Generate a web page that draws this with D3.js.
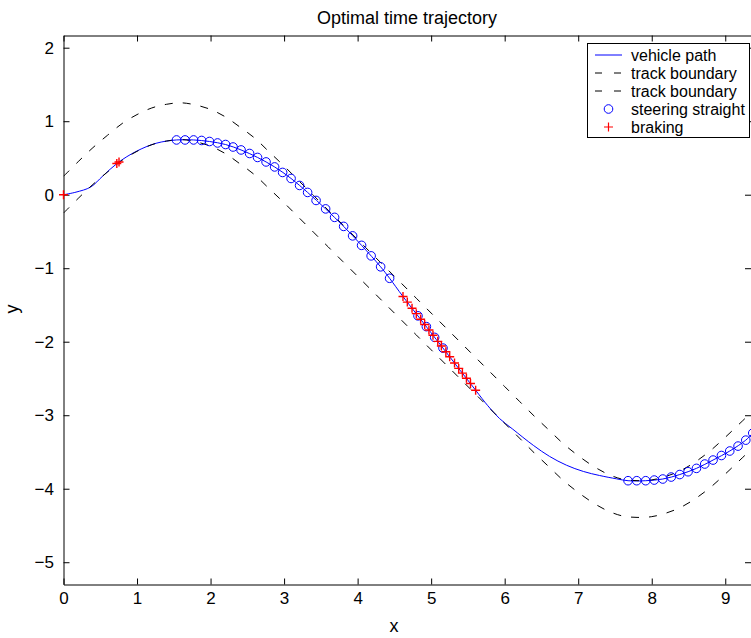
<!DOCTYPE html>
<html><head><meta charset="utf-8">
<script src="https://cdn.jsdelivr.net/npm/d3@7"></script>
<style>body{margin:0;background:#fff}svg{display:block}</style>
</head><body>
<svg id="chart" width="751" height="638"></svg>
<script>
// ---- data ----
const trackX = [0,0.2,0.4,0.6,0.8,1.0,1.2,1.4,1.6,1.8,2.0,2.2,2.4,2.6,2.8,3.0,3.2,3.4,3.6,3.8,4.0,4.2,4.4,4.6,4.8,5.0,5.2,5.4,5.6,5.8,6.0,6.2,6.4,6.6,6.8,7.0,7.2,7.4,7.6,7.8,8.0,8.2,8.4,8.6,8.8,9.0,9.2,9.4];
const upperY = [0.25,0.45,0.64,0.81,0.97,1.09,1.18,1.23,1.25,1.22,1.16,1.06,0.92,0.77,0.58,0.39,0.19,-0.01,-0.21,-0.41,-0.61,-0.81,-1.01,-1.21,-1.41,-1.61,-1.81,-2.01,-2.21,-2.41,-2.61,-2.81,-3.01,-3.20,-3.39,-3.55,-3.69,-3.80,-3.87,-3.89,-3.88,-3.83,-3.75,-3.63,-3.48,-3.30,-3.11,-2.92];
const lowerY = [-0.25,-0.05,0.14,0.31,0.47,0.59,0.68,0.73,0.75,0.72,0.66,0.56,0.42,0.27,0.08,-0.11,-0.31,-0.51,-0.71,-0.91,-1.11,-1.31,-1.51,-1.71,-1.91,-2.11,-2.31,-2.51,-2.71,-2.91,-3.11,-3.31,-3.51,-3.70,-3.89,-4.05,-4.19,-4.30,-4.37,-4.39,-4.38,-4.33,-4.25,-4.13,-3.98,-3.80,-3.61,-3.42];

const pathX = [0,0.17,0.37,0.535,0.74,0.99,1.26,1.537,1.769,1.986,2.204,2.415,2.639,2.871,3.095,3.320,3.565,3.810,4.054,4.313,4.435,4.617,5.0,5.605,5.77,5.93,6.11,6.39,6.61,6.84,7.07,7.29,7.52,7.678,7.918,8.150,8.381,8.608,8.834,9.061,9.279,9.374,9.45];
const pathY = [0,0.035,0.105,0.255,0.435,0.59,0.70,0.745,0.745,0.724,0.683,0.609,0.507,0.378,0.221,0.031,-0.193,-0.431,-0.689,-0.981,-1.137,-1.385,-1.879,-2.660,-2.87,-3.045,-3.19,-3.41,-3.56,-3.68,-3.765,-3.82,-3.865,-3.891,-3.891,-3.868,-3.807,-3.723,-3.610,-3.487,-3.339,-3.243,-3.16];

const straightX = [1.537,1.653,1.769,1.878,1.986,2.095,2.204,2.306,2.415,2.531,2.639,2.755,2.871,2.980,3.095,3.211,3.320,3.435,3.565,3.687,3.810,3.932,4.054,4.184,4.313,4.435,
  4.821,4.935,5.048,5.161,
  7.678,7.796,7.918,8.034,8.150,8.265,8.381,8.494,8.608,8.721,8.834,8.948,9.061,9.174,9.279,9.374];
const straightY = [0.745,0.745,0.745,0.738,0.724,0.704,0.683,0.649,0.609,0.561,0.507,0.446,0.378,0.303,0.221,0.126,0.031,-0.078,-0.193,-0.308,-0.431,-0.560,-0.689,-0.832,-0.981,-1.137,
  -1.648,-1.795,-1.941,-2.087,
  -3.891,-3.891,-3.891,-3.882,-3.868,-3.841,-3.807,-3.769,-3.723,-3.664,-3.610,-3.548,-3.487,-3.420,-3.339,-3.243];

const brakeX = [0,0.725,0.755,4.617,4.676,4.740,4.798,4.857,4.912,4.970,5.025,5.090,5.139,5.200,5.252,5.318,5.375,5.425,5.480,5.535,5.605];
const brakeY = [0,0.425,0.445,-1.385,-1.461,-1.544,-1.618,-1.695,-1.766,-1.840,-1.911,-1.995,-2.058,-2.137,-2.204,-2.289,-2.363,-2.427,-2.498,-2.569,-2.660];

const xTicks = [0,1,2,3,4,5,6,7,8,9];
const yTicks = [-5,-4,-3,-2,-1,0,1,2];
const legendLabels = ["vehicle path","track boundary","track boundary","steering straight","braking"];
const titleText = "Optimal time trajectory";

// ---- layout ----
const FONT = "'Liberation Sans', Arial, Helvetica, sans-serif";
const L = 63.5, R = 751, T = 35.5, B = 584.5;
const DASH = "8,10";
const svg = d3.select("#chart");
const x = d3.scaleLinear().domain([0, 9.35]).range([L, R]);
const y = d3.scaleLinear().domain([-5.303, 2.166]).range([B, T]);

svg.append("defs").append("clipPath").attr("id","clip")
  .append("rect").attr("x",L).attr("y",T).attr("width",R-L).attr("height",B-T);

// axes
const tk = 6;
const gB = svg.append("g").attr("transform",`translate(0,${B})`)
  .call(d3.axisBottom(x).tickValues(xTicks).tickSize(-tk).tickSizeOuter(0).tickPadding(7).tickFormat(d3.format("d")));
const gT = svg.append("g").attr("transform",`translate(0,${T})`)
  .call(d3.axisTop(x).tickValues(xTicks).tickSize(-tk).tickSizeOuter(0).tickFormat(""));
const gL = svg.append("g").attr("transform",`translate(${L},0)`)
  .call(d3.axisLeft(y).tickValues(yTicks).tickSize(-tk).tickSizeOuter(0).tickPadding(9.5).tickFormat(d3.format("d")));
const gR = svg.append("g").attr("transform",`translate(${R},0)`)
  .call(d3.axisRight(y).tickValues(yTicks).tickSize(-tk).tickSizeOuter(0).tickFormat(""));
[gB,gT,gL,gR].forEach(g=>{
  g.selectAll("path,line").attr("stroke","#000").attr("stroke-width",1);
  g.selectAll("text").attr("font-family",FONT).attr("font-size",17).attr("fill","#000");
});

const plot = svg.append("g").attr("clip-path","url(#clip)");
const lineGen = d3.line().x(d=>x(d[0])).y(d=>y(d[1])).curve(d3.curveCatmullRom.alpha(0.5));

// vehicle path
plot.append("path").datum(pathX.map((v,i)=>[v,pathY[i]]))
  .attr("d",lineGen).attr("fill","none").attr("stroke","#0000ff").attr("stroke-width",1);
// boundaries
[upperY, lowerY].forEach(arr=>{
  plot.append("path").datum(trackX.map((v,i)=>[v,arr[i]]))
    .attr("d",lineGen).attr("fill","none").attr("stroke","#000").attr("stroke-width",1)
    .attr("stroke-dasharray",DASH);
});
// steering straight markers
svg.append("g").selectAll("circle").data(straightX.map((v,i)=>[v,straightY[i]])).join("circle")
  .attr("cx",d=>x(d[0])).attr("cy",d=>y(d[1])).attr("r",4.3)
  .attr("fill","none").attr("stroke","#0000ff").attr("stroke-width",1);
// braking markers
const pm = 4.5;
svg.append("g").selectAll("path").data(brakeX.map((v,i)=>[v,brakeY[i]])).join("path")
  .attr("d",d=>{const cx=x(d[0]),cy=y(d[1]);return `M${cx-pm},${cy}H${cx+pm}M${cx},${cy-pm}V${cy+pm}`;})
  .attr("stroke","#ff0000").attr("stroke-width",1.4).attr("fill","none");

// title and labels
svg.append("text").attr("x",407).attr("y",24).attr("text-anchor","middle")
  .attr("font-family",FONT).attr("font-size",18).text(titleText);
svg.append("text").attr("x",394).attr("y",632).attr("text-anchor","middle")
  .attr("font-family",FONT).attr("font-size",18).text("x");
svg.append("text").attr("transform","translate(18,309) rotate(-90)").attr("text-anchor","middle")
  .attr("font-family",FONT).attr("font-size",18).text("y");

// legend
const lg = svg.append("g");
lg.append("rect").attr("x",587.5).attr("y",43.5).attr("width",162).attr("height",94)
  .attr("fill","#fff").attr("stroke","#000").attr("stroke-width",1);
const rowY = i => 55 + i*18;
legendLabels.forEach((lab,i)=>{
  const cy = rowY(i);
  if(i===0){
    lg.append("line").attr("x1",595).attr("x2",622).attr("y1",cy).attr("y2",cy).attr("stroke","#0000ff");
  } else if(i<3){
    lg.append("line").attr("x1",595).attr("x2",622).attr("y1",cy).attr("y2",cy).attr("stroke","#000").attr("stroke-dasharray","7,12");
  } else if(i===3){
    lg.append("circle").attr("cx",608.5).attr("cy",cy).attr("r",4.3).attr("fill","none").attr("stroke","#0000ff");
  } else {
    lg.append("path").attr("d",`M${608.5-pm},${cy}H${608.5+pm}M608.5,${cy-pm}V${cy+pm}`).attr("stroke","#ff0000").attr("stroke-width",1.2);
  }
  lg.append("text").attr("x",631).attr("y",cy).attr("dy","0.35em")
    .attr("font-family",FONT).attr("font-size",16).text(lab);
});
</script>
</body></html>
